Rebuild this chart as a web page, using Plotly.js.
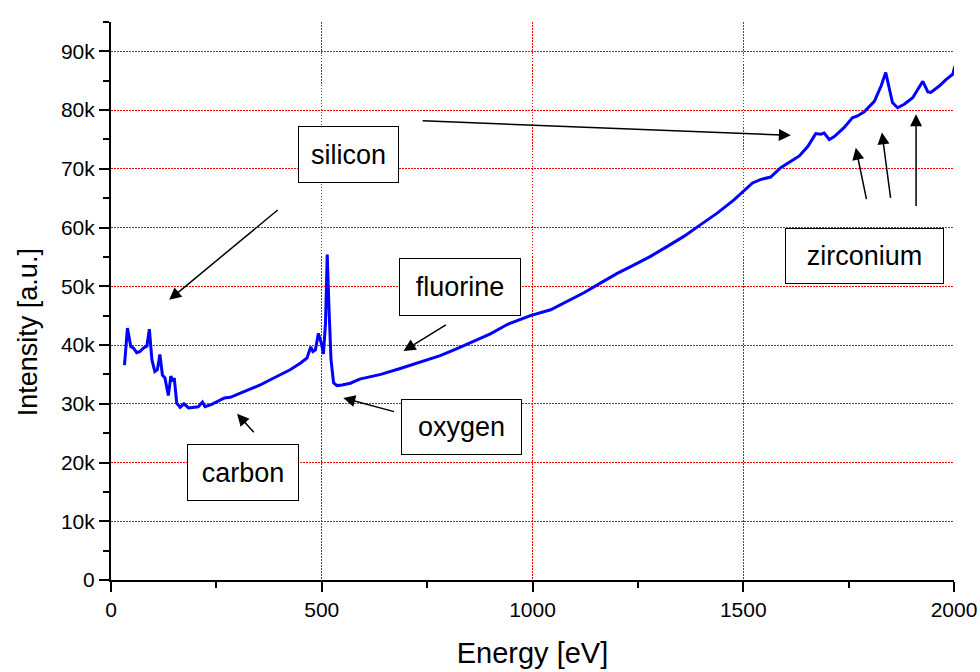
<!DOCTYPE html>
<html>
<head>
<meta charset="utf-8">
<script src="https://cdn.plot.ly/plotly-3.0.1.min.js"></script>
<style>html,body{margin:0;padding:0;background:#fff;}#chart{width:980px;height:672px;}</style>
</head>
<body>
<div id="chart"></div>
<script>
// Energy [eV]
var energy = [32, 39, 47, 53, 61, 69, 77, 85, 91, 97, 104, 110, 116, 122, 128, 136, 142, 147, 150, 156, 164, 173, 184, 195, 207, 217, 223, 239, 255, 269, 283, 306, 330, 354, 378, 401, 425, 449, 465, 474, 479, 485, 492, 499, 504, 509, 513, 517, 522, 528, 536, 548, 568, 590, 640, 690, 740, 781, 821, 861, 900, 940, 995, 1043, 1083, 1122, 1160, 1201, 1240, 1280, 1320, 1359, 1399, 1439, 1478, 1502, 1522, 1542, 1565, 1589, 1613, 1633, 1653, 1672, 1684, 1692, 1704, 1716, 1739, 1759, 1771, 1787, 1811, 1827, 1838, 1846, 1854, 1866, 1882, 1902, 1926, 1938, 1945, 1965, 1981, 1997, 2002];
// Intensity [k a.u.]
var intensityK = [36.6, 42.9, 39.7, 39.5, 38.7, 38.9, 39.5, 39.8, 42.7, 37.5, 35.5, 35.8, 38.4, 34.9, 34.4, 31.4, 34.7, 33.8, 34.4, 30.1, 29.4, 30.0, 29.3, 29.4, 29.5, 30.3, 29.5, 29.9, 30.5, 31.0, 31.1, 31.8, 32.4, 33.2, 34.1, 34.9, 35.8, 36.9, 37.8, 39.7, 38.9, 39.2, 42.0, 40.3, 38.5, 43.8, 55.4, 46.6, 37.5, 33.6, 33.1, 33.2, 33.5, 34.2, 35.0, 36.1, 37.2, 38.2, 39.4, 40.6, 41.9, 43.5, 45.0, 46.0, 47.4, 48.9, 50.5, 52.2, 53.6, 55.1, 56.8, 58.5, 60.5, 62.5, 64.7, 66.2, 67.6, 68.2, 68.6, 70.2, 71.3, 72.2, 73.8, 76.0, 75.9, 76.1, 75.0, 75.5, 77.0, 78.7, 79.0, 79.7, 81.5, 84.1, 86.4, 83.8, 81.3, 80.4, 81.0, 82.1, 84.9, 83.1, 83.0, 84.1, 85.2, 86.1, 87.5];

var yTickVals = [0, 10000, 20000, 30000, 40000, 50000, 60000, 70000, 80000, 90000];
var yTickText = ['0', '10k', '20k', '30k', '40k', '50k', '60k', '70k', '80k', '90k'];
var xTickVals = [0, 500, 1000, 1500, 2000];
var xTickText = ['0', '500', '1000', '1500', '2000'];

// labels: text, centre energy, centre intensity, box size in px
var labelText = ['silicon', 'fluorine', 'oxygen', 'carbon', 'zirconium'];
var labelE = [564, 829, 832, 313, 1787];
var labelI = [72400, 49900, 26100, 18300, 55200];
var labelW = [99, 120, 119, 110, 157];
var labelH = [55, 56, 54, 55, 54];

// arrows: head (E, I) and tail (E, I)
var arrowHeadE = [138, 1613, 694, 551, 299, 1767, 1829, 1910];
var arrowHeadI = [47700, 75700, 39000, 31000, 28300, 73600, 76200, 79300];
var arrowTailE = [399, 736, 798, 675, 342, 1793, 1850, 1910];
var arrowTailI = [63200, 78200, 43600, 28600, 24900, 64600, 64800, 63400];

var intensity = intensityK.map(function (v) { return v * 1000; });

var FONT = 'Arial, "Liberation Sans", sans-serif';

var annotations = [];
for (var i = 0; i < labelText.length; i++) {
  annotations.push({
    x: labelE[i], y: labelI[i], xref: 'x', yref: 'y',
    text: labelText[i], showarrow: false,
    font: {family: FONT, size: 27, color: '#000'},
    width: labelW[i], height: labelH[i], align: 'center', valign: 'middle',
    bordercolor: '#000', borderwidth: 1, borderpad: 0,
    bgcolor: '#fff'
  });
}
for (var j = 0; j < arrowHeadE.length; j++) {
  annotations.push({
    x: arrowHeadE[j], y: arrowHeadI[j], xref: 'x', yref: 'y',
    ax: arrowTailE[j], ay: arrowTailI[j], axref: 'x', ayref: 'y',
    text: '', showarrow: true,
    arrowhead: 2, arrowsize: 1.6, arrowwidth: 1.5, arrowcolor: '#000', standoff: 0
  });
}
// y axis title (placed as in the reference, slightly below axis centre)
annotations.push({
  x: -0.0985, y: 0.444, xref: 'paper', yref: 'paper',
  text: 'Intensity [a.u.]', textangle: -90, showarrow: false,
  xanchor: 'center', yanchor: 'middle',
  font: {family: FONT, size: 27, color: '#000'}
});

var trace = {
  x: energy, y: intensity, type: 'scatter', mode: 'lines',
  line: {color: '#0000FF', width: 3},
  hoverinfo: 'skip'
};

var axisCommon = {
  showline: true, linecolor: '#000', linewidth: 2,
  ticks: 'outside', ticklen: 10, tickwidth: 2, tickcolor: '#000',
  showgrid: true, gridcolor: 'rgb(255,0,0)', gridwidth: 1, griddash: '1.5px,1.5px',
  zeroline: false,
  tickfont: {family: FONT, size: 21, color: '#000'}
};

var layout = {
  width: 980, height: 672,
  margin: {l: 111, r: 26, t: 22, b: 92},
  paper_bgcolor: '#fff', plot_bgcolor: '#fff',
  showlegend: false,
  font: {family: FONT, color: '#000'},
  xaxis: Object.assign({}, axisCommon, {
    range: [0, 2000], tickvals: xTickVals, ticktext: xTickText,
    minor: {dtick: 250, tick0: 0, ticks: 'outside', ticklen: 6, tickwidth: 2, tickcolor: '#000', showgrid: false},
    title: {text: 'Energy [eV]', font: {family: FONT, size: 29, color: '#000'}, standoff: 22},
    automargin: false
  }),
  yaxis: Object.assign({}, axisCommon, {
    range: [0, 95000], tickvals: yTickVals, ticktext: yTickText,
    minor: {dtick: 5000, tick0: 0, ticks: 'outside', ticklen: 6, tickwidth: 2, tickcolor: '#000', showgrid: false},
    automargin: false
  }),
  xaxis2: {
    overlaying: 'x', side: 'top', anchor: 'y', range: [0, 2000],
    showline: true, linecolor: '#000', linewidth: 2,
    ticks: 'inside', ticklen: 4, tickwidth: 1.5, tickcolor: '#000',
    tickvals: xTickVals, showticklabels: false, showgrid: false, zeroline: false
  },
  yaxis2: {
    overlaying: 'y', side: 'right', anchor: 'x', range: [0, 95000],
    showline: true, linecolor: '#000', linewidth: 2,
    ticks: 'inside', ticklen: 4, tickwidth: 1.5, tickcolor: '#000',
    tickvals: yTickVals, showticklabels: false, showgrid: false, zeroline: false
  },
  annotations: annotations
};

Plotly.newPlot('chart', [trace], layout, {displayModeBar: false, staticPlot: true});
</script>
</body>
</html>
